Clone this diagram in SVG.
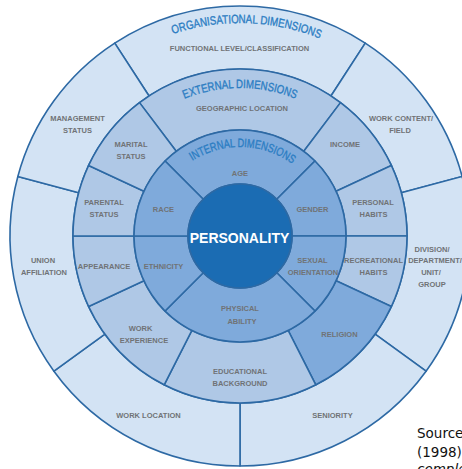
<svg xmlns="http://www.w3.org/2000/svg" width="462" height="469" viewBox="0 0 462 469">
  <style>
    .seg { stroke: #2d69a4; stroke-width: 1.6; stroke-linejoin: round; }
    .o { fill: #d3e3f4; }
    .e { fill: #afc8e6; }
    .i { fill: #7faadb; }
    .lbl { font-family: "Liberation Sans", Arial, sans-serif; font-size: 7.5px; font-weight: bold; fill: #707376; text-anchor: middle; }
    .dim { font-family: "Liberation Sans", Arial, sans-serif; font-size: 12px; fill: #2b7dc3; stroke: #2b7dc3; stroke-width: 0.35; }
    .core { font-family: "Liberation Sans", Arial, sans-serif; font-size: 14px; font-weight: bold; fill: #ffffff; text-anchor: middle; }
    .src { font-family: "DejaVu Sans", Verdana, sans-serif; font-size: 13.5px; fill: #111111; }
  </style>
  <defs>
    <path id="arcOrg" d="M27,236 A213,213 0 0 1 453,236"/>
    <path id="arcExt" d="M92,236 A148,148 0 0 1 388,236"/>
    <path id="arcInt" d="M151,236 A89,89 0 0 1 329,236"/>
  </defs>
  <rect width="462" height="469" fill="#ffffff"/>

  <!-- organisational ring (r 167..230) -->
  <g id="functional-level">
    <path class="seg o" d="M114.74,43.10 A230,230 0 0 1 365.26,43.10 L330.95,95.94 A167,167 0 0 0 149.05,95.94 Z"/>
    <text class="lbl" x="239.5" y="51">FUNCTIONAL LEVEL/CLASSIFICATION</text>
  </g>
  <g id="work-content">
    <path class="seg o" d="M365.26,43.10 A230,230 0 0 1 462.16,176.48 L401.31,192.78 A167,167 0 0 0 330.95,95.94 Z"/>
    <text class="lbl" x="401" y="121">WORK CONTENT/</text>
    <text class="lbl" x="400" y="133">FIELD</text>
  </g>
  <g id="division">
    <path class="seg o" d="M462.16,176.48 A230,230 0 0 1 426.07,371.19 L375.10,334.16 A167,167 0 0 0 401.31,192.78 Z"/>
    <text class="lbl" x="432" y="252">DIVISION/</text>
    <text class="lbl" x="435" y="263">DEPARTMENT/</text>
    <text class="lbl" x="431" y="275">UNIT/</text>
    <text class="lbl" x="432" y="287">GROUP</text>
  </g>
  <g id="seniority">
    <path class="seg o" d="M426.07,371.19 A230,230 0 0 1 240,466 L240,403 A167,167 0 0 0 375.10,334.16 Z"/>
    <text class="lbl" x="332.5" y="418">SENIORITY</text>
  </g>
  <g id="work-location">
    <path class="seg o" d="M240,466 A230,230 0 0 1 53.93,371.19 L104.90,334.16 A167,167 0 0 0 240,403 Z"/>
    <text class="lbl" x="148.5" y="418">WORK LOCATION</text>
  </g>
  <g id="union-affiliation">
    <path class="seg o" d="M53.93,371.19 A230,230 0 0 1 17.84,176.48 L78.69,192.78 A167,167 0 0 0 104.90,334.16 Z"/>
    <text class="lbl" x="43" y="263">UNION</text>
    <text class="lbl" x="44" y="275">AFFILIATION</text>
  </g>
  <g id="management-status">
    <path class="seg o" d="M17.84,176.48 A230,230 0 0 1 114.74,43.10 L149.05,95.94 A167,167 0 0 0 78.69,192.78 Z"/>
    <text class="lbl" x="77.5" y="121">MANAGEMENT</text>
    <text class="lbl" x="77.5" y="133">STATUS</text>
  </g>

  <!-- external ring (r 106..167) -->
  <g id="geographic-location">
    <path class="seg e" d="M139.50,102.63 A167,167 0 0 1 340.50,102.63 L303.79,151.35 A106,106 0 0 0 176.21,151.35 Z"/>
    <text class="lbl" x="242" y="111">GEOGRAPHIC LOCATION</text>
  </g>
  <g id="income">
    <path class="seg e" d="M340.50,102.63 A167,167 0 0 1 391.35,165.43 L336.07,191.20 A106,106 0 0 0 303.79,151.35 Z"/>
    <text class="lbl" x="345" y="147">INCOME</text>
  </g>
  <g id="personal-habits">
    <path class="seg e" d="M391.35,165.43 A167,167 0 0 1 407,236 L346,236 A106,106 0 0 0 336.07,191.20 Z"/>
    <text class="lbl" x="373" y="205">PERSONAL</text>
    <text class="lbl" x="373.5" y="217">HABITS</text>
  </g>
  <g id="recreational-habits">
    <path class="seg e" d="M407,236 A167,167 0 0 1 391.35,306.57 L336.07,280.80 A106,106 0 0 0 346,236 Z"/>
    <text class="lbl" x="373.5" y="263">RECREATIONAL</text>
    <text class="lbl" x="373.5" y="275">HABITS</text>
  </g>
  <g id="religion">
    <path class="seg i" d="M391.35,306.57 A167,167 0 0 1 315.82,384.80 L288.12,330.45 A106,106 0 0 0 336.07,280.80 Z"/>
    <text class="lbl" x="339.5" y="337">RELIGION</text>
  </g>
  <g id="educational-background">
    <path class="seg e" d="M315.82,384.80 A167,167 0 0 1 164.18,384.80 L191.88,330.45 A106,106 0 0 0 288.12,330.45 Z"/>
    <text class="lbl" x="240" y="374">EDUCATIONAL</text>
    <text class="lbl" x="240" y="386">BACKGROUND</text>
  </g>
  <g id="work-experience">
    <path class="seg e" d="M164.18,384.80 A167,167 0 0 1 88.65,306.57 L143.93,280.80 A106,106 0 0 0 191.88,330.45 Z"/>
    <text class="lbl" x="140.5" y="331">WORK</text>
    <text class="lbl" x="144" y="343">EXPERIENCE</text>
  </g>
  <g id="appearance">
    <path class="seg e" d="M88.65,306.57 A167,167 0 0 1 73,236 L134,236 A106,106 0 0 0 143.93,280.80 Z"/>
    <text class="lbl" x="104" y="269">APPEARANCE</text>
  </g>
  <g id="parental-status">
    <path class="seg e" d="M73,236 A167,167 0 0 1 88.65,165.43 L143.93,191.20 A106,106 0 0 0 134,236 Z"/>
    <text class="lbl" x="104" y="205">PARENTAL</text>
    <text class="lbl" x="104" y="217">STATUS</text>
  </g>
  <g id="marital-status">
    <path class="seg e" d="M88.65,165.43 A167,167 0 0 1 139.50,102.63 L176.21,151.35 A106,106 0 0 0 143.93,191.20 Z"/>
    <text class="lbl" x="131" y="147">MARITAL</text>
    <text class="lbl" x="131" y="159">STATUS</text>
  </g>

  <!-- internal ring (r 52..106) -->
  <g id="age">
    <path class="seg i" d="M165.05,161.05 A106,106 0 0 1 314.95,161.05 L276.77,199.23 A52,52 0 0 0 203.23,199.23 Z"/>
    <text class="lbl" x="240" y="176">AGE</text>
  </g>
  <g id="gender">
    <path class="seg i" d="M314.95,161.05 A106,106 0 0 1 346,236 L292,236 A52,52 0 0 0 276.77,199.23 Z"/>
    <text class="lbl" x="312.5" y="212">GENDER</text>
  </g>
  <g id="sexual-orientation">
    <path class="seg i" d="M346,236 A106,106 0 0 1 314.95,310.95 L276.77,272.77 A52,52 0 0 0 292,236 Z"/>
    <text class="lbl" x="312.5" y="263">SEXUAL</text>
    <text class="lbl" x="313" y="275">ORIENTATION</text>
  </g>
  <g id="physical-ability">
    <path class="seg i" d="M314.95,310.95 A106,106 0 0 1 165.05,310.95 L203.23,272.77 A52,52 0 0 0 276.77,272.77 Z"/>
    <text class="lbl" x="240" y="311">PHYSICAL</text>
    <text class="lbl" x="242" y="323.5">ABILITY</text>
  </g>
  <g id="ethnicity">
    <path class="seg i" d="M165.05,310.95 A106,106 0 0 1 134,236 L188,236 A52,52 0 0 0 203.23,272.77 Z"/>
    <text class="lbl" x="163.5" y="269">ETHNICITY</text>
  </g>
  <g id="race">
    <path class="seg i" d="M134,236 A106,106 0 0 1 165.05,161.05 L203.23,199.23 A52,52 0 0 0 188,236 Z"/>
    <text class="lbl" x="163.5" y="212">RACE</text>
  </g>

  <!-- centre -->
  <g id="personality">
    <circle cx="240" cy="236" r="52" fill="#1b6cb3" stroke="#2d69a4" stroke-width="1.6"/>
    <text class="core" x="239.5" y="243">PERSONALITY</text>
  </g>

  <!-- ring titles -->
  <g id="ring-titles">
    <text class="dim"><textPath href="#arcOrg" startOffset="51%" text-anchor="middle" textLength="150" lengthAdjust="spacingAndGlyphs">ORGANISATIONAL DIMENSIONS</textPath></text>
    <text class="dim"><textPath href="#arcExt" startOffset="50%" text-anchor="middle" textLength="114" lengthAdjust="spacingAndGlyphs">EXTERNAL DIMENSIONS</textPath></text>
    <text class="dim"><textPath href="#arcInt" startOffset="51%" text-anchor="middle" textLength="106" lengthAdjust="spacingAndGlyphs">INTERNAL DIMENSIONS</textPath></text>
  </g>

  <!-- source note -->
  <g id="source-note">
    <text class="src" x="417" y="438">Source</text>
    <text class="src" x="417" y="457">(1998)</text>
    <text class="src" x="417" y="474" font-style="italic">comple</text>
  </g>
</svg>
